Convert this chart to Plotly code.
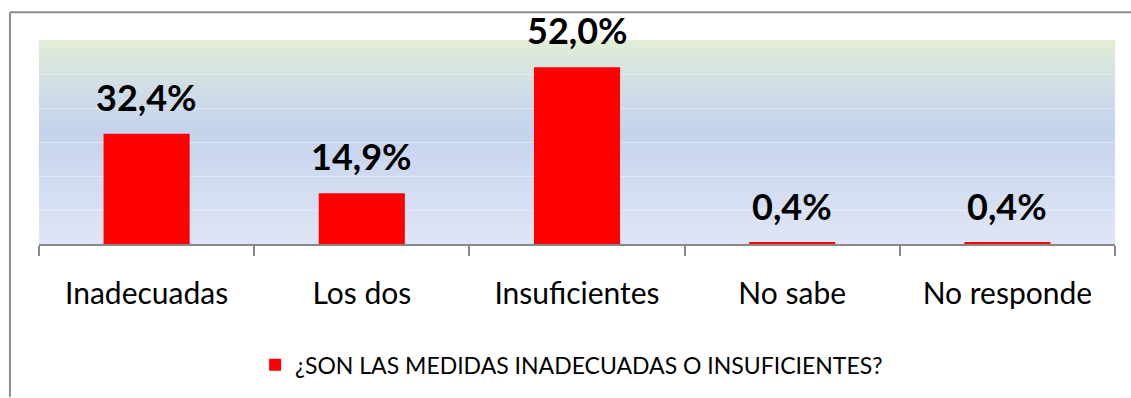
import plotly.graph_objects as go

# Survey answers and their shares (%)
categories = ["Inadecuadas", "Los dos", "Insuficientes", "No sabe", "No responde"]
values = [32.4, 14.9, 52.0, 0.4, 0.4]
series_name = "¿SON LAS MEDIDAS INADECUADAS O INSUFICIENTES?"

FONT = "Lato"
BAR_RED = "#ff0000"

fig = go.Figure()
fig.add_trace(go.Bar(
    x=categories,
    y=values,
    name=series_name,
    marker=dict(color=BAR_RED, line=dict(width=0)),
    width=0.4,
    showlegend=True,
))

# Value labels above each bar, written with a decimal comma
for cat, val in zip(categories, values):
    fig.add_annotation(
        x=cat, y=val, text="<b>" + f"{val:.1f}%".replace(".", ",") + "</b>",
        showarrow=False, yanchor="bottom", yshift=13,
        font=dict(family=FONT, size=36, color="#000000"),
    )

# Vertical gradient behind the plot area: green at the top, blue in the middle,
# pale lavender at the bottom
stops = [
    (0.00, (223, 229, 245)),
    (0.30, (210, 220, 241)),
    (0.55, (196, 211, 236)),
    (0.72, (205, 219, 232)),
    (0.85, (214, 227, 224)),
    (1.00, (227, 237, 214)),
]

def color_at(t):
    for (t0, c0), (t1, c1) in zip(stops[:-1], stops[1:]):
        if t0 <= t <= t1:
            f = (t - t0) / (t1 - t0) if t1 > t0 else 0
            return "rgb({},{},{})".format(*[round(a + (b - a) * f) for a, b in zip(c0, c1)])
    return "rgb({},{},{})".format(*stops[-1][1])

n_bands = 103
shapes = []
for i in range(n_bands):
    y0 = i / n_bands
    y1 = (i + 1) / n_bands
    shapes.append(dict(
        type="rect", xref="paper", yref="paper", x0=0, x1=1, y0=y0,
        y1=min(1.0, y1 + 0.004),
        fillcolor=color_at((y0 + y1) / 2), line=dict(width=0), layer="below",
    ))

# Outer chart frame (top and left edges)
frame = "#8c8c8c"
shapes.append(dict(type="line", xref="paper", yref="paper",
                   x0=-0.027, x1=1.02, y0=1.136, y1=1.136,
                   line=dict(color=frame, width=2)))
shapes.append(dict(type="line", xref="paper", yref="paper",
                   x0=-0.027, x1=-0.027, y0=1.136, y1=-0.75,
                   line=dict(color=frame, width=2)))

fig.update_layout(
    width=1131, height=398,
    margin=dict(l=39, r=16, t=40, b=152),
    paper_bgcolor="white",
    plot_bgcolor="rgba(0,0,0,0)",
    font=dict(family=FONT, color="#000000"),
    shapes=shapes,
    bargap=0.6,
    showlegend=True,
    legend=dict(
        orientation="h", x=0.495, xanchor="center", y=-0.592, yanchor="middle",
        font=dict(family=FONT, size=23, color="#000000"),
        bgcolor="rgba(0,0,0,0)",
    ),
    xaxis=dict(
        type="category",
        showline=True, linecolor="#898989", linewidth=2,
        ticks="outside", tickson="boundaries", ticklen=10,
        tickcolor="#898989", tickwidth=1.5,
        tickfont=dict(family=FONT, size=30, color="#000000"),
        ticklabelstandoff=22,
        showgrid=False,
    ),
    yaxis=dict(
        range=[0, 60], dtick=10,
        showgrid=True, gridcolor="rgba(255,255,255,0.4)", gridwidth=1,
        zeroline=False, showline=False, showticklabels=False, ticks="",
    ),
)

fig.write_html("out.html")
